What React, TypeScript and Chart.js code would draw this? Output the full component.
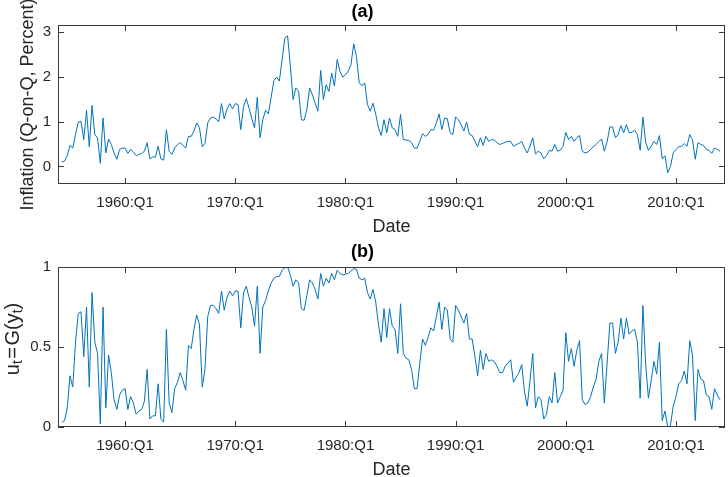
import React, { useEffect, useRef } from "react";
import { Chart, registerables } from "chart.js";

Chart.register(...registerables);

// ---- data (quarterly, starting 1954:Q2) ----
const FIRST_YEAR = 1954;
const FIRST_QUARTER = 2;

const inflation: number[] = [
  0.10, 0.12, 0.24, 0.47, 0.41, 0.71, 0.99, 1.00, 0.60, 1.25,
  0.44, 1.36, 0.71, 0.64, 0.07, 1.08, 0.30, 0.61, 0.49, 0.30,
  0.16, 0.38, 0.41, 0.41, 0.29, 0.38, 0.32, 0.24, 0.27, 0.29,
  0.34, 0.53, 0.17, 0.21, 0.21, 0.45, 0.17, 0.14, 0.82, 0.34,
  0.27, 0.41, 0.49, 0.53, 0.47, 0.41, 0.67, 0.67, 0.79, 0.97,
  0.86, 0.44, 0.51, 0.97, 1.08, 1.10, 1.06, 0.99, 1.40, 1.06,
  1.28, 1.40, 1.28, 1.40, 1.38, 0.82, 1.33, 1.51, 1.30, 1.06,
  0.86, 1.54, 0.64, 1.04, 1.25, 1.17, 1.53, 1.91, 1.99, 1.90,
  2.38, 2.86, 2.91, 2.23, 1.49, 1.75, 1.67, 1.04, 1.03, 1.27,
  1.75, 1.60, 1.41, 1.23, 2.14, 1.49, 1.82, 1.67, 2.08, 1.79,
  2.38, 2.12, 1.99, 2.04, 2.12, 2.27, 2.73, 2.45, 1.86, 1.80,
  1.86, 1.38, 1.23, 1.41, 1.16, 0.86, 0.69, 1.04, 0.75, 1.08,
  0.86, 0.82, 0.67, 1.16, 0.60, 0.59, 0.58, 0.53, 0.41, 0.41,
  0.56, 0.73, 0.67, 0.71, 0.82, 0.81, 0.97, 1.17, 0.82, 1.08,
  1.06, 0.75, 0.71, 1.10, 1.04, 0.93, 0.79, 0.99, 0.71, 0.69,
  0.56, 0.44, 0.64, 0.47, 0.67, 0.56, 0.60, 0.59, 0.53, 0.49,
  0.51, 0.54, 0.56, 0.56, 0.45, 0.49, 0.51, 0.56, 0.41, 0.30,
  0.45, 0.64, 0.28, 0.34, 0.30, 0.17, 0.24, 0.36, 0.34, 0.49,
  0.34, 0.36, 0.45, 0.76, 0.60, 0.67, 0.56, 0.64, 0.69, 0.34,
  0.30, 0.32, 0.38, 0.44, 0.49, 0.56, 0.61, 0.34, 0.55, 0.88,
  0.88, 0.64, 0.71, 0.91, 0.75, 0.93, 0.75, 0.76, 0.81, 0.71,
  0.36, 1.10, 0.54, 0.36, 0.45, 0.56, 0.49, 0.69, 0.17, 0.24,
  -0.14, 0.00, 0.30, 0.38, 0.44, 0.45, 0.51, 0.45, 0.71, 0.60,
  0.16, 0.53, 0.49, 0.47, 0.38, 0.36, 0.29, 0.41, 0.38, 0.34,
];

const uValues: number[] = [
  0.03, 0.04, 0.12, 0.32, 0.25, 0.53, 0.71, 0.72, 0.44, 0.75,
  0.25, 0.84, 0.53, 0.46, 0.02, 0.75, 0.12, 0.45, 0.34, 0.17,
  0.11, 0.20, 0.23, 0.24, 0.11, 0.19, 0.15, 0.08, 0.10, 0.11,
  0.16, 0.36, 0.05, 0.07, 0.07, 0.27, 0.05, 0.03, 0.61, 0.15,
  0.09, 0.24, 0.28, 0.34, 0.29, 0.23, 0.51, 0.49, 0.61, 0.70,
  0.64, 0.25, 0.36, 0.69, 0.76, 0.76, 0.74, 0.71, 0.85, 0.73,
  0.81, 0.85, 0.82, 0.85, 0.85, 0.62, 0.84, 0.88, 0.81, 0.75,
  0.63, 0.88, 0.46, 0.75, 0.79, 0.85, 0.90, 0.93, 0.94, 0.94,
  0.98, 0.995, 1.00, 0.95, 0.88, 0.92, 0.90, 0.74, 0.73, 0.82,
  0.92, 0.90, 0.86, 0.80, 0.96, 0.88, 0.93, 0.90, 0.96, 0.92,
  0.98, 0.96, 0.95, 0.955, 0.96, 0.975, 0.99, 0.985, 0.93, 0.92,
  0.93, 0.84, 0.80, 0.86, 0.78, 0.64, 0.53, 0.74, 0.56, 0.74,
  0.63, 0.61, 0.46, 0.77, 0.46, 0.43, 0.42, 0.36, 0.24, 0.24,
  0.40, 0.55, 0.51, 0.56, 0.62, 0.60, 0.69, 0.78, 0.61, 0.75,
  0.73, 0.55, 0.53, 0.76, 0.73, 0.69, 0.65, 0.71, 0.55, 0.55,
  0.44, 0.32, 0.48, 0.36, 0.46, 0.41, 0.42, 0.41, 0.38, 0.34,
  0.34, 0.38, 0.40, 0.42, 0.28, 0.31, 0.34, 0.39, 0.22, 0.13,
  0.29, 0.46, 0.12, 0.19, 0.17, 0.05, 0.08, 0.19, 0.15, 0.34,
  0.15, 0.19, 0.23, 0.59, 0.41, 0.49, 0.38, 0.48, 0.54, 0.17,
  0.14, 0.15, 0.19, 0.25, 0.30, 0.41, 0.46, 0.15, 0.40, 0.65,
  0.65, 0.46, 0.53, 0.68, 0.55, 0.68, 0.58, 0.60, 0.61, 0.53,
  0.18, 0.76, 0.39, 0.18, 0.29, 0.41, 0.33, 0.53, 0.04, 0.10,
  0.00, 0.01, 0.13, 0.19, 0.27, 0.29, 0.35, 0.27, 0.54, 0.45,
  0.04, 0.36, 0.30, 0.29, 0.20, 0.19, 0.11, 0.24, 0.20, 0.17,
];

const xTickYears = [1960, 1970, 1980, 1990, 2000, 2010];
const xTickLabels = ["1960:Q1", "1970:Q1", "1980:Q1", "1990:Q1", "2000:Q1", "2010:Q1"];
const topYTicks = [0, 1, 2, 3];
const topYTickLabels = ["0", "1", "2", "3"];
const bottomYTicks = [0, 0.5, 1];
const bottomYTickLabels = ["0", "0.5", "1"];

const topTitle = "(a)";
const bottomTitle = "(b)";
const xAxisTitle = "Date";
const topYTitle = "Inflation (Q-on-Q, Percent)";
// [text, isSubscript, extra space before, extra space after]
const bottomYTitleParts: [string, boolean, number, number][] = [
  ["u", false, 0, 0],
  ["t", true, 0, 0],
  ["=", false, 1.5, 1.5],
  ["G(y", false, 0, 0],
  ["t", true, 0, 0],
  [")", false, 0, 0],
];

// ---- styling ----
const X_MIN = 1953.91;
const X_MAX = 2014.45;
const TOP_Y_MIN = -0.39;
const TOP_Y_MAX = 3.15;
const BOT_Y_MIN = 0;
const BOT_Y_MAX = 1;

const FONT = "'Liberation Sans', Arial, Helvetica, sans-serif";
const LINE_COLOR = "#0072BD";
const AXIS_COLOR = "#262626";
const FRAME_COLOR = "#3a3a3a";
const TICK_SIZE = 15;
const LABEL_SIZE = 18;
const TICK_LEN = 6;

const quarterDates = (n: number) =>
  Array.from({ length: n }, (_, i) => FIRST_YEAR + (FIRST_QUARTER - 1 + i) / 4);

const boxPlugin = {
  id: "matlabBox",
  afterDraw(chart: any) {
    const { ctx, chartArea: a, scales } = chart;
    ctx.save();
    ctx.strokeStyle = FRAME_COLOR;
    ctx.lineWidth = 1;
    ctx.strokeRect(a.left + 0.5, a.top + 0.5, a.right - a.left - 1, a.bottom - a.top - 1);
    ctx.beginPath();
    for (const t of scales.x.ticks) {
      const px = Math.round(scales.x.getPixelForValue(t.value)) + 0.5;
      ctx.moveTo(px, a.bottom);
      ctx.lineTo(px, a.bottom - TICK_LEN);
      ctx.moveTo(px, a.top);
      ctx.lineTo(px, a.top + TICK_LEN);
    }
    for (const t of scales.y.ticks) {
      const py = Math.round(scales.y.getPixelForValue(t.value)) + 0.5;
      ctx.moveTo(a.left, py);
      ctx.lineTo(a.left + TICK_LEN, py);
      ctx.moveTo(a.right, py);
      ctx.lineTo(a.right - TICK_LEN, py);
    }
    ctx.stroke();
    ctx.restore();
  },
};

const subscriptYLabelPlugin = {
  id: "subscriptYLabel",
  afterDraw(chart: any) {
    const { ctx, chartArea: a } = chart;
    const mainSize = 20;
    const subSize = 14;
    const mainFont = `${mainSize}px ${FONT}`;
    const subFont = `${subSize}px ${FONT}`;
    ctx.save();
    let total = 0;
    const widths = bottomYTitleParts.map(([txt, sub, pre, post]) => {
      ctx.font = sub ? subFont : mainFont;
      const w = ctx.measureText(txt).width + pre + post;
      total += w;
      return w;
    });
    const cy = (a.top + a.bottom) / 2 - 8;
    ctx.translate(0, cy);
    ctx.rotate(-Math.PI / 2);
    ctx.fillStyle = AXIS_COLOR;
    ctx.textBaseline = "alphabetic";
    ctx.textAlign = "left";
    let x = -total / 2;
    const base = 18.5;
    bottomYTitleParts.forEach(([txt, sub, pre], i) => {
      ctx.font = sub ? subFont : mainFont;
      ctx.fillText(txt, x + pre, sub ? base + 3.5 : base);
      x += widths[i];
    });
    ctx.restore();
  },
};

function buildConfig(p: {
  values: number[];
  yMin: number;
  yMax: number;
  yTicks: number[];
  yTickLabels: string[];
  title: string;
  titlePad: { top: number; bottom: number };
  padTop: number;
  padBottom: number;
  xAxisHeight: number;
  xTitlePadBottom: number;
  yTitle: string | null;
  plugins: any[];
}): any {
  const dates = quarterDates(p.values.length);
  return {
    type: "line",
    data: {
      datasets: [
        {
          data: dates.map((x, i) => ({ x, y: p.values[i] })),
          borderColor: LINE_COLOR,
          borderWidth: 1,
          pointRadius: 0,
          fill: false,
          tension: 0,
        },
      ],
    },
    options: {
      responsive: false,
      animation: false,
      events: [],
      layout: { padding: { left: 0, right: 3, top: p.padTop, bottom: p.padBottom } },
      plugins: {
        legend: { display: false },
        tooltip: { enabled: false },
        title: {
          display: true,
          text: p.title,
          color: "#000",
          font: { family: FONT, size: LABEL_SIZE, weight: "bold", lineHeight: 1 },
          padding: p.titlePad,
        },
      },
      scales: {
        x: {
          type: "linear",
          min: X_MIN,
          max: X_MAX,
          afterBuildTicks: (s: any) => {
            s.ticks = xTickYears.map((v) => ({ value: v }));
          },
          afterFit: (s: any) => {
            s.height = p.xAxisHeight;
          },
          grid: { display: false, drawTicks: false },
          border: { display: false },
          ticks: {
            autoSkip: false,
            maxRotation: 0,
            padding: 10,
            color: AXIS_COLOR,
            font: { family: FONT, size: TICK_SIZE },
            callback: (_v: any, i: number) => xTickLabels[i],
          },
          title: {
            display: true,
            text: xAxisTitle,
            color: AXIS_COLOR,
            font: { family: FONT, size: LABEL_SIZE, lineHeight: 0.8 },
            padding: { top: 0, bottom: p.xTitlePadBottom },
          },
        },
        y: {
          type: "linear",
          min: p.yMin,
          max: p.yMax,
          afterBuildTicks: (s: any) => {
            s.ticks = p.yTicks.map((v) => ({ value: v }));
          },
          afterFit: (s: any) => {
            s.width = 58;
          },
          grid: { display: false, drawTicks: false },
          border: { display: false },
          ticks: {
            padding: 7,
            color: AXIS_COLOR,
            font: { family: FONT, size: TICK_SIZE },
            callback: (_v: any, i: number) => p.yTickLabels[i],
          },
          title: {
            display: p.yTitle !== null,
            text: p.yTitle ?? "",
            color: AXIS_COLOR,
            font: { family: FONT, size: LABEL_SIZE, lineHeight: 1 },
            padding: { top: 19.3, bottom: 0 },
          },
        },
      },
    },
    plugins: p.plugins,
  };
}

export default function App() {
  const topRef = useRef<HTMLCanvasElement>(null);
  const botRef = useRef<HTMLCanvasElement>(null);

  useEffect(() => {
    const top = new Chart(
      topRef.current as HTMLCanvasElement,
      buildConfig({
        values: inflation,
        yMin: TOP_Y_MIN,
        yMax: TOP_Y_MAX,
        yTicks: topYTicks,
        yTickLabels: topYTickLabels,
        title: topTitle,
        titlePad: { top: 1, bottom: 3.5 },
        padTop: 2.5,
        padBottom: 233,
        xAxisHeight: 60,
        xTitlePadBottom: 10,
        yTitle: topYTitle,
        plugins: [boxPlugin],
      })
    );
    const bottom = new Chart(
      botRef.current as HTMLCanvasElement,
      buildConfig({
        values: uValues,
        yMin: BOT_Y_MIN,
        yMax: BOT_Y_MAX,
        yTicks: bottomYTicks,
        yTickLabels: bottomYTickLabels,
        title: bottomTitle,
        titlePad: { top: 0, bottom: 6 },
        padTop: 243,
        padBottom: 0,
        xAxisHeight: 50,
        xTitlePadBottom: 0,
        yTitle: null,
        plugins: [boxPlugin, subscriptYLabelPlugin],
      })
    );
    return () => {
      top.destroy();
      bottom.destroy();
    };
  }, []);

  return (
    <div style={{ position: "absolute", left: 0, top: 0, width: 728, height: 477, background: "#fff" }}>
      <canvas ref={topRef} width={728} height={477} style={{ position: "absolute", left: 0, top: 0 }} />
      <canvas ref={botRef} width={728} height={477} style={{ position: "absolute", left: 0, top: 0 }} />
    </div>
  );
}
